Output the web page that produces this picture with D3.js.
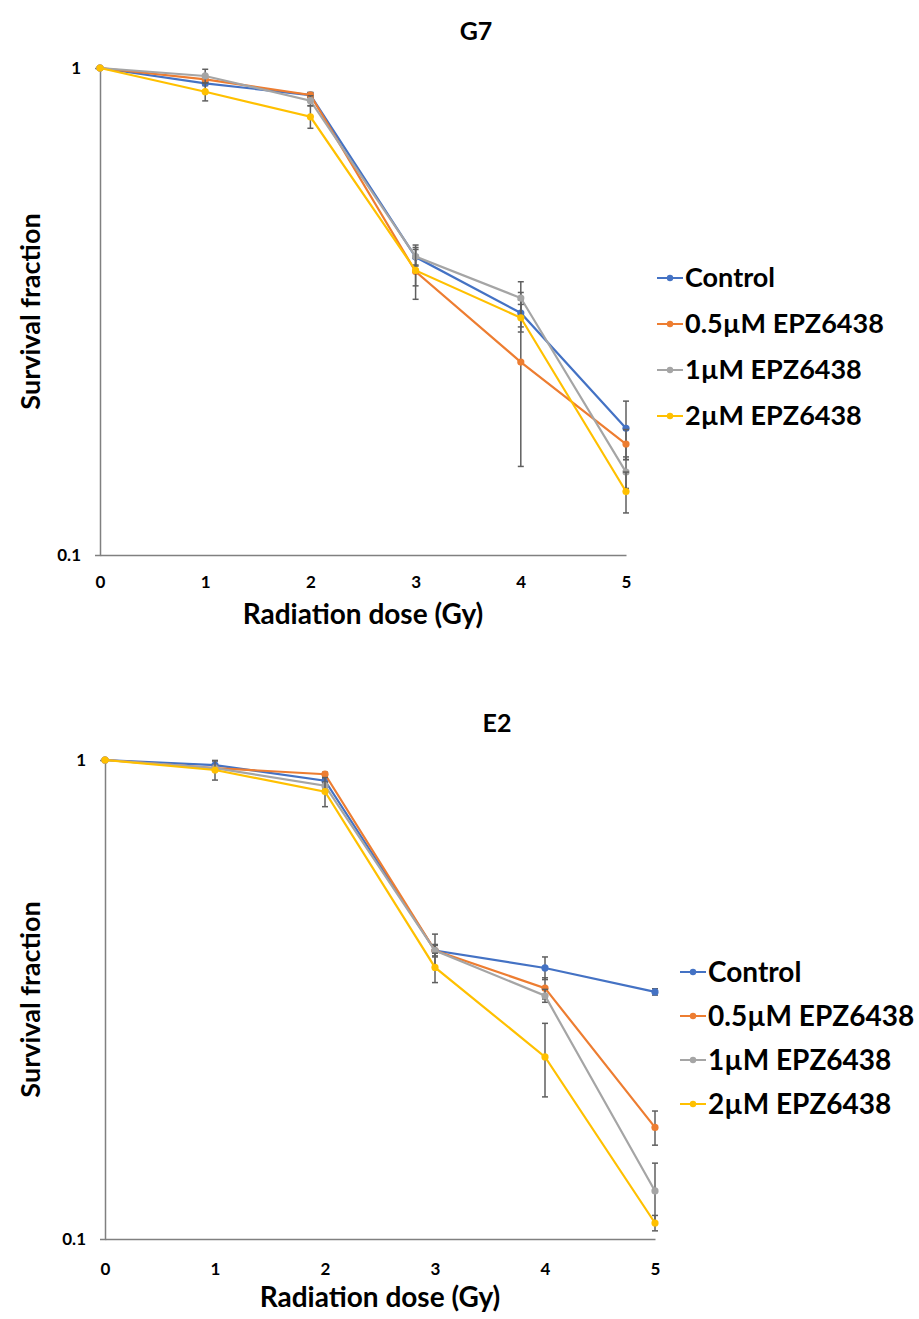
<!DOCTYPE html>
<html>
<head>
<meta charset="utf-8">
<script src="https://cdn.jsdelivr.net/npm/d3@7"></script>
<style>
  body { margin: 0; background: #fff; }
  svg text { font-family: Lato, "Open Sans", sans-serif; font-weight: bold; fill: #000; }
</style>
</head>
<body>
<div id="chart"></div>
<script>
// doses on x
var doses = [0, 1, 2, 3, 4, 5];
var seriesNames = ["Control", "0.5µM EPZ6438", "1µM EPZ6438", "2µM EPZ6438"];
var seriesColors = ["#4472C4", "#ED7D31", "#A5A5A5", "#FFC000"];
var yTicks = [0.1, 1];

// G7 survival fractions
var g7Control = [1, 0.93, 0.88, 0.409, 0.314, 0.182];
var g7Half    = [1, 0.948, 0.88, 0.382, 0.249, 0.169];
var g7One     = [1, 0.963, 0.857, 0.41, 0.337, 0.148];
var g7Two     = [1, 0.894, 0.794, 0.384, 0.307, 0.135];
// G7 error bars (+/-)
var g7ControlErr = [0, 0.01, 0.01, 0.015, 0.02, 0.025];
var g7HalfErr    = [0, 0.012, 0.011, 0.025, 0.097, 0.012];
var g7OneErr     = [0, 0.031, 0.02, 0.018, 0.027, 0.011];
var g7TwoErr     = [0, 0.038, 0.042, 0.049, 0.02, 0.013];

// E2 survival fractions
var e2Control = [1, 0.976, 0.905, 0.4, 0.368, 0.328];
var e2Half    = [1, 0.962, 0.934, 0.4, 0.334, 0.171];
var e2One     = [1, 0.962, 0.884, 0.4, 0.322, 0.126];
var e2Two     = [1, 0.953, 0.859, 0.369, 0.24, 0.108];
// E2 error bars (+/-)
var e2ControlErr = [0, 0.019, 0.01, 0.033, 0.02, 0.005];
var e2HalfErr    = [0, 0.01, 0.009, 0.01, 0.017, 0.014];
var e2OneErr     = [0, 0.01, 0.015, 0.012, 0.01, 0.018];
var e2TwoErr     = [0, 0.045, 0.06, 0.026, 0.042, 0.004];

var svg = d3.select("#chart").append("svg")
    .attr("width", 919)
    .attr("height", 1319);

function drawPanel(cfg) {
    var g = svg.append("g");

    var x = d3.scaleLinear().domain([0, 5]).range([cfg.left, cfg.right]);
    var y = d3.scaleLog().domain([0.1, 1]).range([cfg.bottom, cfg.top]);

    // axes
    var yAxis = g.append("g")
        .attr("transform", "translate(" + cfg.left + ",0)")
        .call(d3.axisLeft(y).tickValues(yTicks).tickFormat(d3.format("")).tickSize(5).tickPadding(14));
    var xAxis = g.append("g")
        .attr("transform", "translate(0," + cfg.bottom + ")")
        .call(d3.axisBottom(x).tickValues(doses).tickFormat(d3.format("d")).tickSize(0).tickPadding(cfg.xPad));
    yAxis.attr("font-size", null).attr("font-family", null);
    xAxis.attr("font-size", null).attr("font-family", null);
    g.selectAll(".domain").attr("stroke", "#808080").attr("stroke-width", 1.5);
    g.selectAll(".tick line").attr("stroke", "#808080");
    g.selectAll(".tick text")
        .style("font-size", "17px")
        .attr("fill", "#000");

    var line = d3.line()
        .x(function(d, i) { return x(doses[i]); })
        .y(function(d) { return y(d); });

    cfg.series.forEach(function(vals, s) {
        var errs = cfg.errors[s];
        var col = seriesColors[s];
        // error bars
        var eb = g.append("g").attr("stroke", "#5f5f5f").attr("stroke-width", 1.5);
        vals.forEach(function(v, i) {
            if (!errs[i]) return;
            var cx = x(doses[i]);
            var y1 = y(v + errs[i]), y2 = y(Math.max(v - errs[i], 0.1));
            eb.append("line").attr("x1", cx).attr("x2", cx).attr("y1", y1).attr("y2", y2);
            eb.append("line").attr("x1", cx - 3).attr("x2", cx + 3).attr("y1", y1).attr("y2", y1);
            eb.append("line").attr("x1", cx - 3).attr("x2", cx + 3).attr("y1", y2).attr("y2", y2);
        });
        g.append("path")
            .datum(vals)
            .attr("fill", "none")
            .attr("stroke", col)
            .attr("stroke-width", 2.2)
            .attr("d", line);
        g.selectAll(".pt" + s)
            .data(vals)
            .enter().append("circle")
            .attr("cx", function(d, i) { return x(doses[i]); })
            .attr("cy", function(d) { return y(d); })
            .attr("r", 3.6)
            .attr("fill", col);
    });

    // titles
    g.append("text")
        .attr("x", cfg.titleX).attr("y", cfg.titleY)
        .attr("text-anchor", "middle")
        .style("font-size", "25px")
        .text(cfg.title);
    g.append("text")
        .attr("x", (cfg.left + cfg.right) / 2).attr("y", cfg.bottom + cfg.xLabOff)
        .attr("text-anchor", "middle")
        .style("font-size", "28px")
        .text("Radiation dose (Gy)");
    g.append("text")
        .attr("transform", "translate(" + 40 + "," + (cfg.top + cfg.bottom) / 2 + ") rotate(-90)")
        .attr("text-anchor", "middle")
        .style("font-size", "27px")
        .text("Survival fraction");

    // legend
    var leg = g.append("g");
    seriesNames.forEach(function(name, s) {
        var ly = cfg.legY + s * cfg.legStep;
        leg.append("line")
            .attr("x1", cfg.legX).attr("x2", cfg.legX + 26)
            .attr("y1", ly).attr("y2", ly)
            .attr("stroke", seriesColors[s]).attr("stroke-width", 2);
        leg.append("circle")
            .attr("cx", cfg.legX + 13).attr("cy", ly).attr("r", 3.2)
            .attr("fill", seriesColors[s]);
        leg.append("text")
            .attr("x", cfg.legX + 28).attr("y", ly)
            .attr("dy", "0.35em")
            .style("font-size", cfg.legFont + "px")
            .text(name);
    });
}

drawPanel({
    title: "G7", titleX: 476, titleY: 40,
    left: 100, right: 626, top: 68, bottom: 555,
    xPad: 21, xLabOff: 69,
    legX: 657, legY: 278, legStep: 46, legFont: 27,
    series: [g7Control, g7Half, g7One, g7Two],
    errors: [g7ControlErr, g7HalfErr, g7OneErr, g7TwoErr]
});

drawPanel({
    title: "E2", titleX: 497, titleY: 732,
    left: 105, right: 655, top: 760, bottom: 1239,
    xPad: 24, xLabOff: 68,
    legX: 680, legY: 972, legStep: 44, legFont: 28,
    series: [e2Control, e2Half, e2One, e2Two],
    errors: [e2ControlErr, e2HalfErr, e2OneErr, e2TwoErr]
});
</script>
</body>
</html>
